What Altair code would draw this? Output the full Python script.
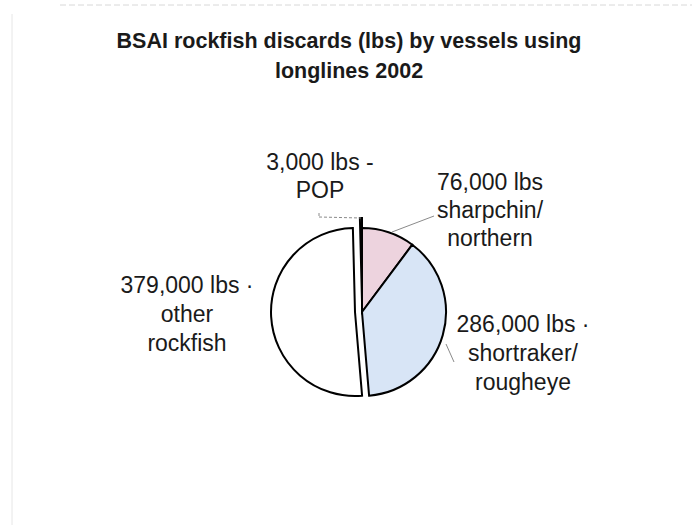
import math
import altair as alt
import pandas as pd

# ---- data ----
categories = ["sharpchin/northern", "shortraker/rougheye", "other rockfish", "POP"]
values = [76000, 286000, 379000, 3000]
order = [1, 2, 3, 4]
label_lines = [
    ["76,000 lbs", "sharpchin/", "northern"],
    ["286,000 lbs ·", "shortraker/", "rougheye"],
    ["379,000 lbs ·", "other", "rockfish"],
    ["3,000 lbs -", "POP"],
]
title_lines = ["BSAI rockfish discards (lbs) by vessels using", "longlines 2002"]

# ---- styles / layout ----
FONT = "Liberation Sans"
fills = ["#edd3de", "#d8e5f6", "#ffffff", "#ffffff"]
CX, CY, R = 362, 312, 84
explode = [(0, 0), (0, 0), (-7, 0), (0, -10)]
label_pos = [(490, 190, 28), (523, 332, 29), (187, 293, 29), (320, 170, 28)]

df = pd.DataFrame({"category": categories, "value": values, "order": order})
total = sum(values)

base = alt.Chart(df).transform_stack(
    stack="value", groupby=[], as_=["start", "end"], sort=[alt.SortField("order")]
)

layers = []

# frame decoration (faint scan edges)
one = alt.Data(values=[{}])
layers.append(alt.Chart(one).mark_rule(color="#d8d8d8", strokeWidth=1, strokeDash=[6, 3]).encode(
    x=alt.value(60), x2=alt.value(692), y=alt.value(5), y2=alt.value(5)))
layers.append(alt.Chart(one).mark_rule(color="#e6e6e6", strokeWidth=1).encode(
    x=alt.value(12), x2=alt.value(12), y=alt.value(14), y2=alt.value(525)))

for cat, fill, (dx, dy) in zip(categories, fills, explode):
    layers.append(
        base.transform_filter(alt.datum.category == cat)
        .mark_arc(stroke="black", strokeWidth=2, fill=fill, radius=R)
        .encode(
            theta=alt.Theta("start:Q", scale=alt.Scale(domain=[0, total], range=[0, 2 * math.pi])),
            theta2="end:Q",
            x=alt.value(CX + dx),
            y=alt.value(CY + dy),
        )
    )

# leader lines
leaders = [
    ((319, 213), (319, 217), True),
    ((319, 217), (361, 218), True),
    ((392, 232), (434, 216), False),
    ((446, 344), (454, 362), False),
]
for (x1, y1), (x2, y2), dashed in leaders:
    kw = {"strokeDash": [3, 2]} if dashed else {}
    layers.append(
        alt.Chart(one).mark_rule(color="#8a8a8a", strokeWidth=1, **kw).encode(
            x=alt.value(x1), y=alt.value(y1), x2=alt.value(x2), y2=alt.value(y2))
    )

# labels
for lines, (lx, ly, lh) in zip(label_lines, label_pos):
    layers.append(
        alt.Chart(one).mark_text(
            text=lines, font=FONT, fontSize=23, color="#1a1a1a", align="center",
            baseline="alphabetic", lineHeight=lh,
        ).encode(x=alt.value(lx), y=alt.value(ly))
    )

# title
layers.append(
    alt.Chart(one).mark_text(
        text=title_lines, font=FONT, fontSize=21.5, fontWeight="bold", color="#1a1a1a",
        align="center", baseline="alphabetic", lineHeight=30,
    ).encode(x=alt.value(349), y=alt.value(48))
)

chart = alt.layer(*layers).properties(
    width=699, height=531, padding=0, background="white",
    autosize=alt.AutoSizeParams(type="none"),
).configure_view(stroke=None)

chart.save("out.html", embed_options={"renderer": "svg", "actions": False})
